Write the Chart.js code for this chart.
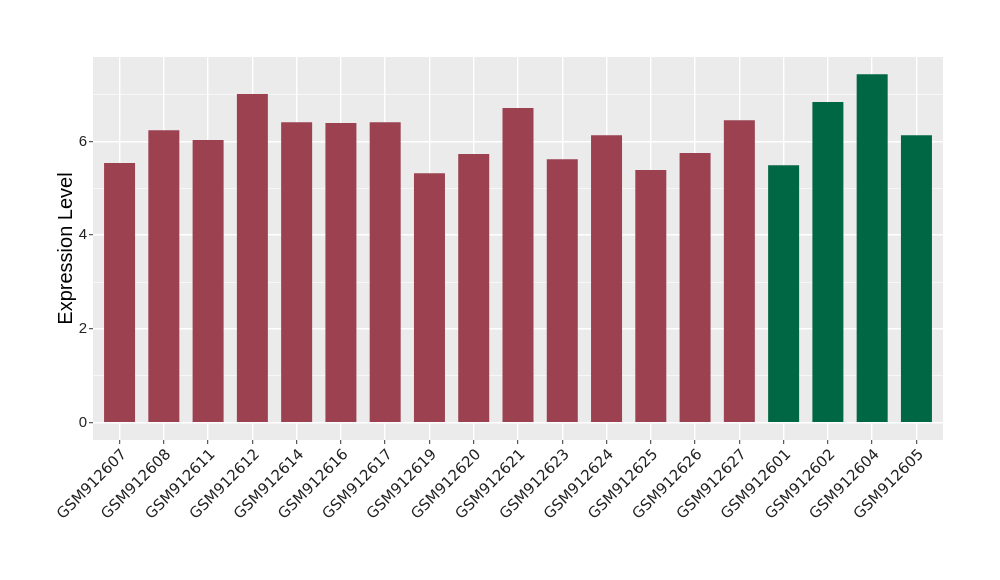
<!DOCTYPE html>
<html>
<head>
<meta charset="utf-8">
<script src="https://cdn.jsdelivr.net/npm/chart.js@4"></script>
<style>
html,body{margin:0;padding:0;background:#fff;}
#wrap{width:1000px;height:580px;position:relative;}
</style>
</head>
<body>
<div id="wrap"><canvas id="c" width="1000" height="580"></canvas></div>
<script>
const categories = ["GSM912607","GSM912608","GSM912611","GSM912612","GSM912614","GSM912616","GSM912617","GSM912619","GSM912620","GSM912621","GSM912623","GSM912624","GSM912625","GSM912626","GSM912627","GSM912601","GSM912602","GSM912604","GSM912605"];
const values = [5.54,6.24,6.03,7.01,6.41,6.39,6.41,5.32,5.73,6.71,5.62,6.13,5.39,5.75,6.45,5.49,6.84,7.43,6.13];
const groups = ["a","a","a","a","a","a","a","a","a","a","a","a","a","a","a","b","b","b","b"];
const groupColors = {a:"#9B4150", b:"#006745"};
const yTicks = [0,1,2,3,4,5,6,7];
const yLabelled = [0,2,4,6];
const yMin = -0.37, yMax = 7.8;
const xExpand = 0.6;

const FONT = '"Liberation Sans", Arial, sans-serif';
const XFONT = '"DejaVu Sans", sans-serif';

const panelBg = {
  id:'panelBg',
  beforeDraw(chart){
    const {ctx, chartArea:a} = chart;
    ctx.save();
    ctx.fillStyle = '#EBEBEB';
    ctx.fillRect(a.left, a.top, a.right-a.left, a.bottom-a.top);
    ctx.restore();
  }
};

new Chart(document.getElementById('c'), {
  type:'bar',
  data:{
    labels:categories,
    datasets:[{
      data:values.map((v,i)=>({x:i,y:v})),
      backgroundColor:groups.map(g=>groupColors[g]),
      borderWidth:0,
      categoryPercentage:1.0,
      barPercentage:0.7
    }]
  },
  options:{
    responsive:false,
    animation:false,
    layout:{padding:{left:0,right:57,top:57,bottom:0}},
    plugins:{legend:{display:false},tooltip:{enabled:false}},
    scales:{
      x:{
        type:'linear',
        offset:false,
        min:-xExpand, max:categories.length-1+xExpand,
        afterBuildTicks(s){s.ticks = categories.map((c,i)=>({value:i}));},
        grid:{offset:false,color:'#FFFFFF',lineWidth:1.4,drawTicks:true,tickLength:4,tickColor:'#333333',tickWidth:1},
        border:{display:false},
        ticks:{maxRotation:45,minRotation:45,color:'#222222',font:{family:XFONT,size:15},padding:2,labelOffset:5,autoSkip:false,
          callback:(v)=>categories[v]},
        afterFit(s){s.height=140;}
      },
      y:{
        min:yMin,max:yMax,
        afterBuildTicks(s){s.ticks = yTicks.map(v=>({value:v}));},
        grid:{
          color:'#FFFFFF',
          lineWidth:(c)=> (c.tick && yLabelled.includes(c.tick.value)) ? 1.4 : 0.6,
          tickColor:(c)=> (c.tick && yLabelled.includes(c.tick.value)) ? '#333333' : 'rgba(0,0,0,0)',
          tickLength:4,tickWidth:1
        },
        border:{display:false},
        ticks:{
          color:'#222222',
          font:{family:FONT,size:15},
          padding:2,
          callback:(v)=> yLabelled.includes(v) ? String(v) : ''
        },
        title:{display:true,text:'Expression Level',color:'#000000',font:{family:FONT,size:20},padding:{top:54,bottom:0}},
        afterFit(s){s.width=93;}
      }
    }
  },
  plugins:[panelBg]
});
</script>
</body>
</html>
